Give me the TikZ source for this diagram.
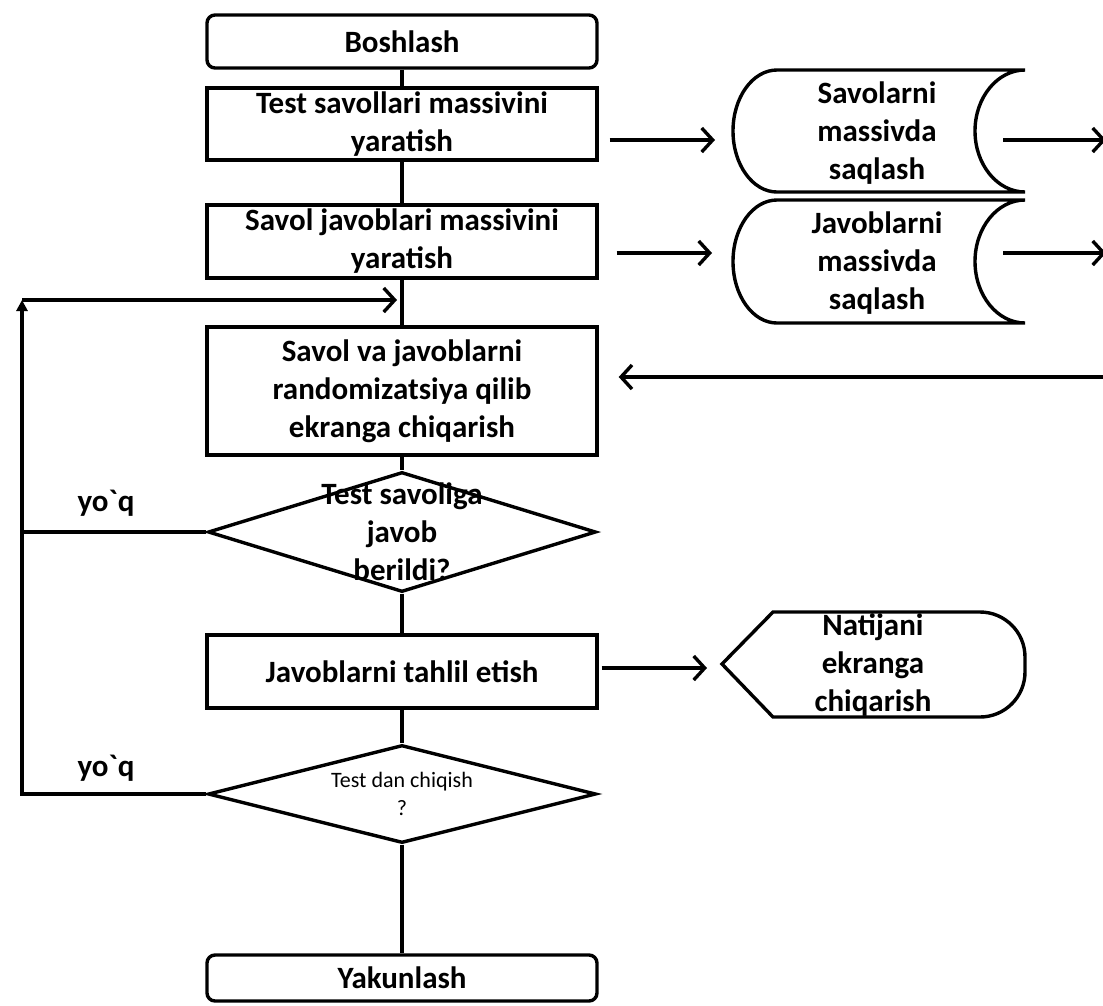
\documentclass[tikz,border=0pt]{standalone}
\usepackage{fontspec}
\setmainfont{Carlito}
\newfontfamily\belgi{Carlito}[Ligatures=TeXOff]
\usetikzlibrary{arrows.meta}
\usetikzlibrary{positioning}
\usetikzlibrary{shapes.geometric}

\begin{document}
\begin{tikzpicture}[x=1pt, y=1pt, line width=3.4pt,
        font=\bfseries\fontsize{31}{38}\selectfont,
        blok/.style={draw, rectangle, minimum width=390pt, inner sep=0pt, align=center},
        chekka/.style={blok, rounded corners=8pt},
        romb/.style={draw, diamond, minimum width=388pt, minimum height=120pt, inner sep=0pt},
        yozuv/.style={align=center, inner sep=0pt},
        oq/.style={-{Straight Barb[length=11pt, width=24pt]}}]
        \useasboundingbox (0,0) rectangle (1103,-1005);
        \node[chekka, minimum height=53pt] (bosh) at (402,-41.5) {Boshlash};
        \node[blok, minimum height=72pt] (savmas) at (402,-124) {Test savollari massivini\\yaratish};
        \node[blok, minimum height=73pt] (javmas) at (402,-241.5) {Savol javoblari massivini\\yaratish};
        \node[blok, minimum height=128pt] (random) at (402,-391) {Savol va javoblarni\\randomizatsiya qilib\\ekranga chiqarish};
        \node[romb] (berildi) at (402,-532) {};
        \node[yozuv] (berildimatn) at (berildi) {Test savoliga\\javob\\berildi?};
        \node[blok, minimum height=73pt] (tahlil) at (402,-671.5) {Javoblarni tahlil etish};
        \node[romb, minimum height=98pt] (chiqish) at (402,-794) {};
        \node[yozuv, font=\fontsize{22}{28}\selectfont] (chiqishmatn) at (chiqish) {Test dan chiqish\\?};
        \node[chekka, minimum height=46pt] (yakun) at (402,-978) {Yakunlash};
        \draw (bosh) -- (savmas) (savmas) -- (javmas) (javmas) -- (random) (random) -- (berildi);
        \draw (berildi) -- (tahlil) (tahlil) -- (chiqish) (chiqish) -- (yakun);
        % qaytish
        \coordinate (burchak) at (22,-300);
        \coordinate (kirish) at (397,-300);
        \draw[-{Triangle[length=11pt, width=11pt]}] (chiqish.west) -| (burchak);
        \draw (berildi.west) -- (berildi.west -| burchak);
        \draw[oq] (burchak) -- (kirish);
        \node (yoq1) at (106,-503) {yo{\belgi`}q};
        \node (yoq2) at (106,-768) {yo{\belgi`}q};
        % massivlar
        \node[yozuv] (savsaq) at (877,-133) {Savolarni\\massivda\\saqlash};
        \draw (1025,-70) -- (777,-70) arc[start angle=90, end angle=270, x radius=44, y radius=61] -- (1025,-192) arc[start angle=270, end angle=90, x radius=50, y radius=61] -- cycle;
        \node[yozuv] (javsaq) at (877,-263) {Javoblarni\\massivda\\saqlash};
        \draw (1025,-200) -- (777,-200) arc[start angle=90, end angle=270, x radius=44, y radius=61.5] -- (1025,-323) arc[start angle=270, end angle=90, x radius=50, y radius=61.5] -- cycle;
        \coordinate (sav1kir) at (715,-140);
        \coordinate (sav2kir) at (712,-253);
        \coordinate (sav1chiq) at (1003,-140);
        \coordinate (sav2chiq) at (1003,-253);
        \coordinate (chet1) at (1106,-140);
        \coordinate (chet2) at (1106,-253);
        \coordinate (chet3) at (1106,-377);
        \draw[oq] ([shift={(11,-16)}]savmas.east) -- (sav1kir);
        \draw[oq] ([shift={(18,-11.5)}]javmas.east) -- (sav2kir);
        \draw[oq] (sav1chiq) -- (chet1);
        \draw[oq] (sav2chiq) -- (chet2);
        \draw[oq] (chet3) -- ([shift={(20,14)}]random.east);
        % natija
        \node[yozuv] (natija) at (873,-665) {Natijani\\ekranga\\chiqarish};
        \draw (722,-664) -- (773,-612) -- (980,-612) arc[start angle=90, end angle=0, radius=45] -- (1025,-672) arc[start angle=0, end angle=-90, radius=45] -- (773,-717) -- cycle;
        \coordinate (natkir) at (707,-668);
        \draw[oq] ([shift={(3,3.5)}]tahlil.east) -- (natkir);
\end{tikzpicture}
\end{document}
